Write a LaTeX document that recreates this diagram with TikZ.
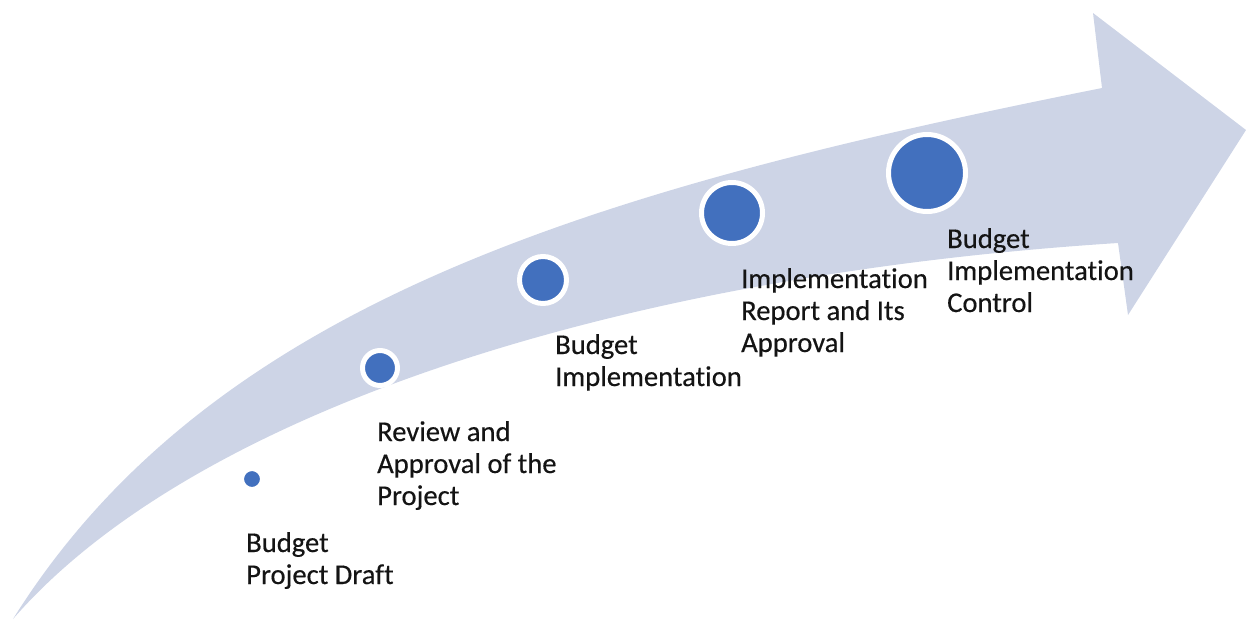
\documentclass[tikz,border=0pt]{standalone}
\usepackage{fontspec}
\setmainfont{Carlito}[Ligatures=NoCommon,FakeBold=0.4]
\definecolor{bandfill}{RGB}{205,212,230}
\definecolor{dotblue}{RGB}{66,112,190}
\definecolor{txt}{RGB}{20,20,20}
\begin{document}
\begin{tikzpicture}[x=1pt,y=-1pt,
  dot/.style={circle,fill=dotblue,draw=white,line width=5pt,inner sep=0pt},
  lbl/.style={anchor=base west,align=left,inner sep=0pt,text=txt,
    font=\fontsize{28.6}{32}\selectfont}]
\useasboundingbox (0,0) rectangle (1246,621);
% curved arrow
\fill[bandfill] (13,619) .. controls (213,299) and (602,188) .. (1102,88)
  -- (1093,13) -- (1246,130) -- (1128,315) -- (1118,243)
  .. controls (618,275) and (193,412) .. (13,619) -- cycle;
% dots
\node[dot,line width=4pt,minimum size=20pt] (c1) at (252,479) {};
\node[dot,minimum size=35pt] (c2) at (380,368) {};
\node[dot,minimum size=47pt] (c3) at (543,280) {};
\node[dot,minimum size=61pt] (c4) at (732,213) {};
\node[dot,minimum size=77pt] (c5) at (927,173) {};
% labels (anchor = baseline of last line)
\node[lbl] (t1) at (246,584) {Budget\\Project Draft};
\node[lbl] (t2) at (377,505) {Review and\\Approval of the\\Project};
\node[lbl] (t3) at (555,386) {Budget\\Implementation};
\node[lbl] (t4) at (741,352) {Implementation\\Report and Its\\Approval};
\node[lbl] (t5) at (947,312) {Budget\\Implementation\\Control};
\end{tikzpicture}
\end{document}
